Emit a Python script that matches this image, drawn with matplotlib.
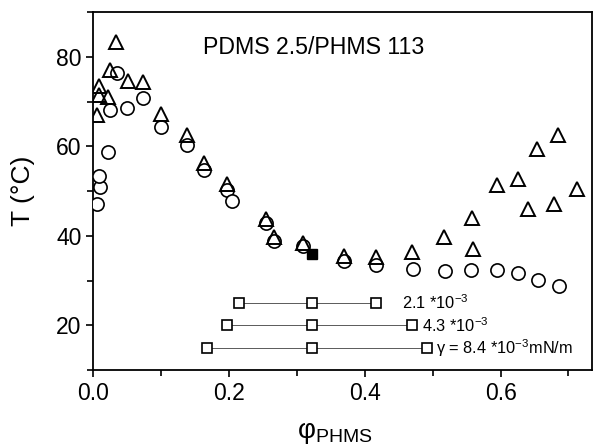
import numpy as np
import matplotlib as mpl
mpl.use("Agg")
import matplotlib.pyplot as plt

mpl.rcParams.update({
    "font.family": ["Liberation Sans", "DejaVu Sans"],
    "mathtext.fontset": "custom",
    "mathtext.rm": "Liberation Sans",
    "mathtext.it": "Liberation Sans:italic",
    "mathtext.bf": "Liberation Sans:bold",
})

# open circles
phi_circ = [0.005, 0.010, 0.009, 0.021, 0.025, 0.035, 0.050, 0.073, 0.100,
            0.138, 0.163, 0.197, 0.204, 0.254, 0.266, 0.309, 0.369, 0.417,
            0.471, 0.518, 0.557, 0.595, 0.626, 0.655, 0.686]
T_circ = [47.2, 50.9, 53.4, 58.8, 68.2, 76.3, 68.5, 70.7, 64.4,
          60.3, 54.7, 50.2, 47.8, 42.9, 38.8, 37.7, 34.5, 33.6,
          32.7, 32.1, 32.4, 32.3, 31.6, 30.1, 28.8]

# open triangles
phi_tri = [0.005, 0.008, 0.009, 0.021, 0.024, 0.034, 0.051, 0.073, 0.100,
           0.138, 0.163, 0.197, 0.254, 0.266, 0.309, 0.369, 0.417, 0.469,
           0.516, 0.559, 0.558, 0.595, 0.626, 0.641, 0.654, 0.678, 0.684, 0.712]
T_tri = [66.9, 71.4, 73.5, 71.1, 77.0, 83.3, 74.7, 74.4, 67.3,
         62.5, 56.2, 51.5, 43.7, 39.7, 38.3, 35.6, 35.3, 36.5,
         39.8, 37.0, 43.9, 51.3, 52.8, 45.9, 59.3, 47.2, 62.5, 50.5]

# filled square
phi_fill = [0.322]
T_fill = [36.0]

# tie lines for three interfacial tensions
tie_y = [25, 20, 15]
tie_left = [0.215, 0.197, 0.167]
tie_mid = [0.322, 0.322, 0.322]
tie_right = [0.416, 0.469, 0.491]
tie_labels = [r"2.1 *10$^{\mathdefault{-3}}$", r"4.3 *10$^{\mathdefault{-3}}$",
              r"γ = 8.4 *10$^{\mathdefault{-3}}$mN/m"]
tie_label_x = [0.455, 0.484, 0.505]

fig = plt.figure(figsize=(5.94, 4.46), dpi=100)
ax = fig.add_axes([0.157, 0.170, 0.840, 0.803])

for y, xl, xm, xr in zip(tie_y, tie_left, tie_mid, tie_right):
    ax.plot([xl, xr], [y, y], color="0.35", lw=0.7, zorder=1)
    ax.plot([xl, xm, xr], [y, y, y], linestyle="none", marker="s", ms=7.5,
            mfc="white", mec="black", mew=1.2, zorder=2)
for y, xt, s in zip(tie_y, tie_label_x, tie_labels):
    ax.text(xt, y, s, fontsize=11.8, va="center", ha="left")

ax.plot(phi_circ, T_circ, linestyle="none", marker="o", ms=9.5,
        mfc="white", mec="black", mew=1.2, zorder=3)
ax.plot(phi_tri, T_tri, linestyle="none", marker="^", ms=9.5,
        mfc="none", mec="black", mew=1.4, zorder=4)
ax.plot(phi_fill, T_fill, linestyle="none", marker="s", ms=7.5,
        mfc="black", mec="black", zorder=5)

ax.text(0.161, 82.1, "PDMS 2.5/PHMS 113", fontsize=16.7, va="center", ha="left")

ax.set_xlim(0.0, 0.735)
ax.set_ylim(10, 90)
ax.set_xticks([0.0, 0.2, 0.4, 0.6])
ax.set_xticks([0.1, 0.3, 0.5, 0.7], minor=True)
ax.set_yticks([20, 40, 60, 80])
ax.set_yticks([10, 30, 50, 70, 90], minor=True)
ax.set_xticklabels(["0.0", "0.2", "0.4", "0.6"])
ax.tick_params(which="both", direction="out", labelsize=16.5, width=1.2)
ax.tick_params(which="major", length=5)
ax.tick_params(which="minor", length=4)
for sp in ax.spines.values():
    sp.set_linewidth(1.3)

ax.set_xlabel(r"$\mathdefault{φ}_{\mathdefault{PHMS}}$", fontsize=20, labelpad=11)
ax.xaxis.label.set_x(0.485)
ax.set_ylabel("T (°C)", fontsize=19, labelpad=15)

fig.savefig("out.png", dpi=100)
